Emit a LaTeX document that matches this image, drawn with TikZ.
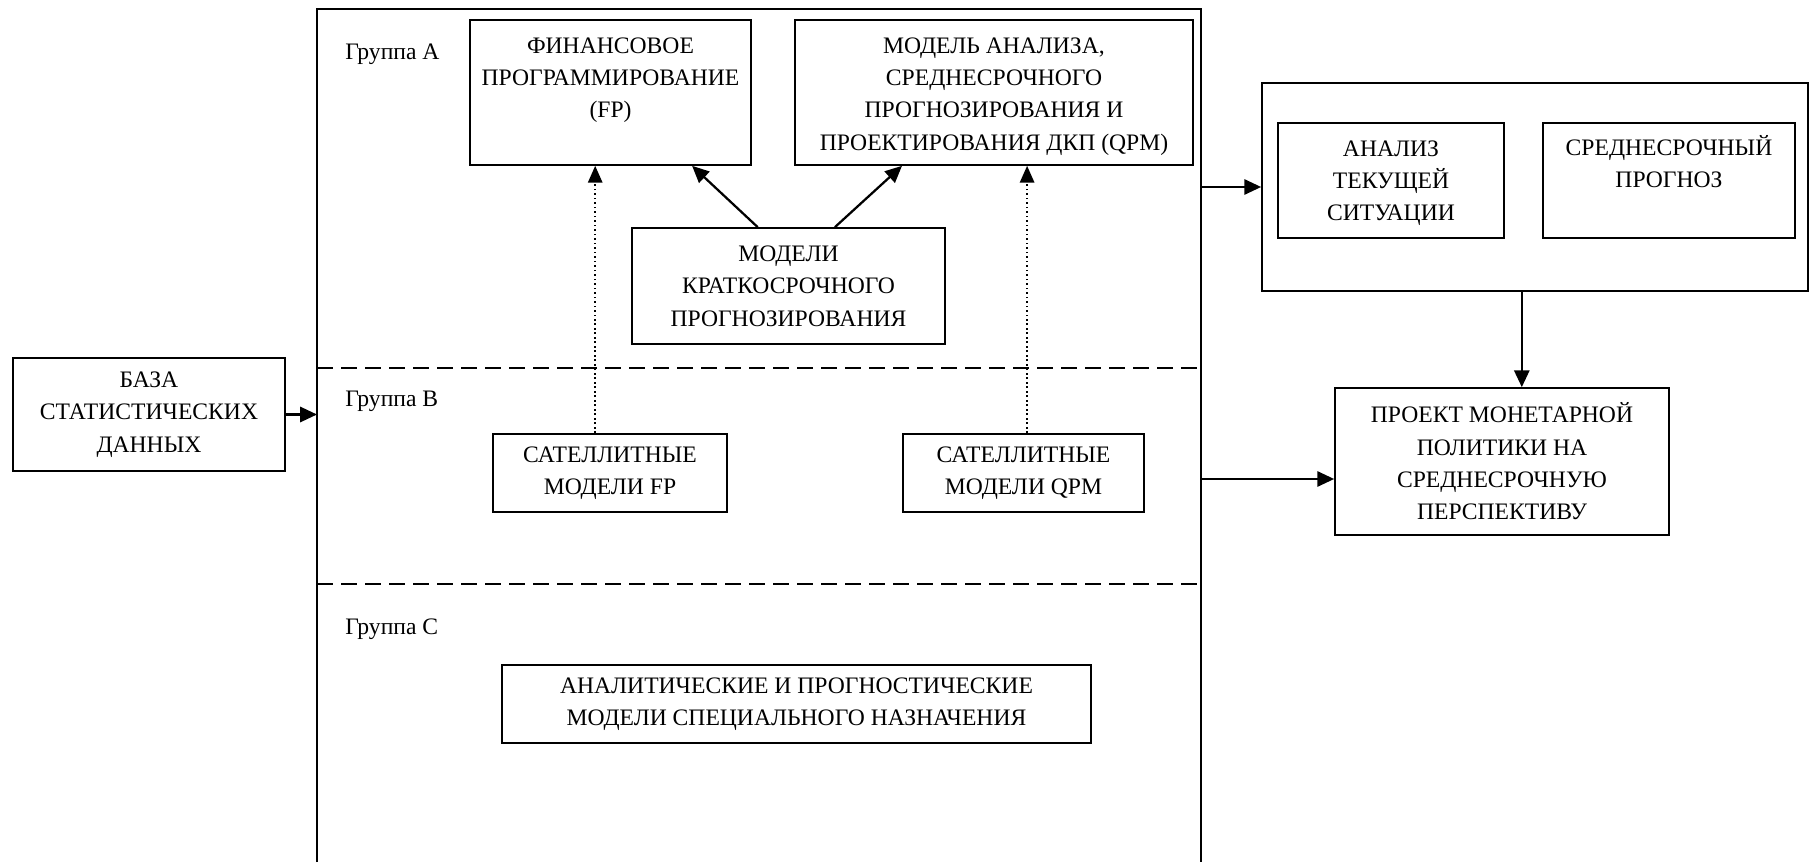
\documentclass[tikz,border=0pt]{standalone}
\usepackage{fontspec}
\setmainfont{Liberation Serif}
\usetikzlibrary{arrows.meta,positioning}

\tikzset{
  every node/.style={font=\fontsize{16.8pt}{23pt}\selectfont},
  box/.style={draw, line width=1.2pt, align=center, inner sep=0pt},
  txt/.style={align=center, inner sep=0pt, anchor=north},
  grp/.style={anchor=west, inner sep=0pt},
  sep/.style={line width=1.2pt, dash pattern=on 0.4cm off 0.2cm},
  arr/.style={line width=1.6pt, -{Triangle[length=0.42cm,width=0.38cm]}},
  darr/.style={line width=1.2pt, dash pattern=on 1.2pt off 2pt, -{Triangle[length=0.42cm,width=0.36cm]}}
}

\begin{document}
\begin{tikzpicture}
	\useasboundingbox (0,0) rectangle (45.225,21.55);
	% frame of the model groups (open at the bottom)
	\draw [line width=1.2pt] (7.925,0) -- (7.925,21.325) -- (30.025,21.325) -- (30.025,0);
	\coordinate (frameL) at (7.925,0);
	\coordinate (frameR) at (30.025,0);
	\coordinate (outP) at (30.025,9.575);
	\draw [sep] (7.925,12.35) -- (30.025,12.35);
	\draw [sep] (7.925,6.95) -- (30.025,6.95);
	\node [grp] (grpA) at (8.625,20.2) {Группа A};
	\node [grp] (grpB) at (8.625,11.525) {Группа B};
	\node [grp] (grpC) at (8.625,5.825) {Группа C};

	% group A
	\node [box, minimum width=7.025cm, minimum height=3.625cm] (fp) at (15.2625,19.2375) {};
	\node [txt] (fptxt) at ([yshift=-0.45cm]fp.north) {ФИНАНСОВОЕ\\ПРОГРАММИРОВАНИЕ\\(FP)};
	\node [box, minimum width=9.95cm, minimum height=3.625cm] (qpm) at (24.85,19.2375) {};
	\node [txt] (qpmtxt) at ([yshift=-0.45cm]qpm.north) {МОДЕЛЬ АНАЛИЗА,\\СРЕДНЕСРОЧНОГО\\ПРОГНОЗИРОВАНИЯ И\\ПРОЕКТИРОВАНИЯ ДКП (QPM)};
	\node [box, minimum width=7.825cm, minimum height=2.9cm] (st) at (19.7125,14.4) {МОДЕЛИ\\КРАТКОСРОЧНОГО\\ПРОГНОЗИРОВАНИЯ};

	% group B
	\node [box, minimum width=5.85cm, minimum height=1.95cm] (satfp) at (15.25,9.725) {САТЕЛЛИТНЫЕ\\МОДЕЛИ FP};
	\node [box, minimum width=6.025cm, minimum height=1.95cm] (satqpm) at (25.5875,9.725) {САТЕЛЛИТНЫЕ\\МОДЕЛИ QPM};

	% group C
	\node [box, minimum width=14.725cm, minimum height=1.95cm] (spec) at (19.9125,3.95) {АНАЛИТИЧЕСКИЕ И ПРОГНОСТИЧЕСКИЕ\\МОДЕЛИ СПЕЦИАЛЬНОГО НАЗНАЧЕНИЯ};

	% outside
	\node [box, minimum width=6.8cm, minimum height=2.825cm] (base) at (3.725,11.1875) {БАЗА\\СТАТИСТИЧЕСКИХ\\ДАННЫХ};
	\node [box, minimum width=13.65cm, minimum height=5.2cm] (outer) at (38.375,16.875) {};
	\node [box, minimum width=5.65cm, minimum height=2.875cm] (anl) at (34.775,17.0375) {};
	\node [txt] (anltxt) at ([yshift=-0.45cm]anl.north) {АНАЛИЗ\\ТЕКУЩЕЙ\\СИТУАЦИИ};
	\node [box, minimum width=6.3cm, minimum height=2.875cm] (mid) at (41.725,17.0375) {};
	\node [txt] (midtxt) at ([yshift=-0.33cm]mid.north) {СРЕДНЕСРОЧНЫЙ\\ПРОГНОЗ};
	\node [box, minimum width=8.35cm, minimum height=3.675cm] (proj) at (37.55,10.0125) {ПРОЕКТ МОНЕТАРНОЙ\\ПОЛИТИКИ НА\\СРЕДНЕСРОЧНУЮ\\ПЕРСПЕКТИВУ};

	% connectors
	\draw [arr] ([xshift=-0.77cm]st.north) -- ([xshift=2.04cm]fp.south);
	\draw [arr] ([xshift=1.16cm]st.north) -- ([xshift=-2.3cm]qpm.south);
	\draw [darr] ([xshift=-0.37cm]satfp.north) -- ([xshift=-0.37cm]satfp.north |- fp.south);
	\draw [darr] ([xshift=0.09cm]satqpm.north) -- ([xshift=0.09cm]satqpm.north |- qpm.south);
	\draw [arr] (base.east) -- (base.east -| frameL);
	\draw [arr] (frameR |- outer.west) -- (outer.west);
	\draw [arr] (outP) -- (outP -| proj.west);
	\draw [arr] ([xshift=-0.33cm]outer.south) -- ([xshift=-0.33cm]outer.south |- proj.north);
\end{tikzpicture}
\end{document}
